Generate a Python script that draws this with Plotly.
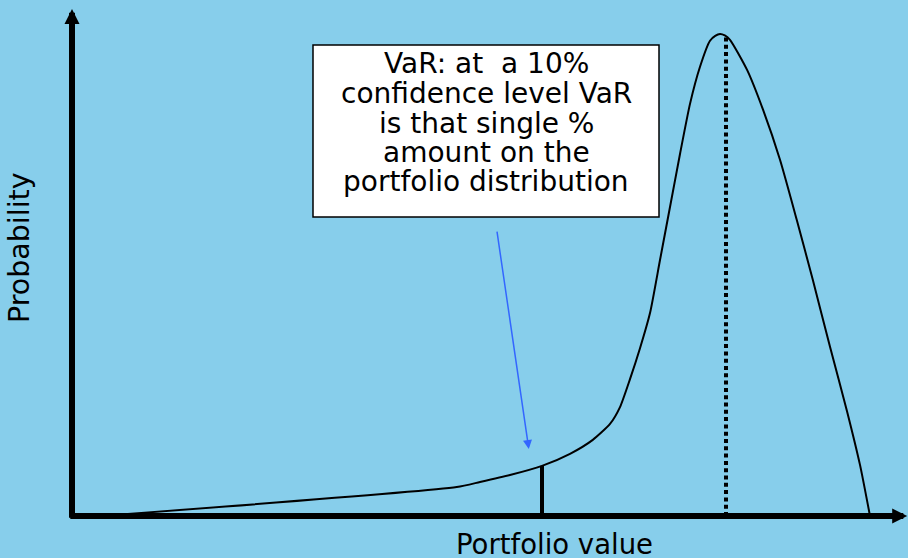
import plotly.graph_objects as go

# Portfolio value (x) and probability density (y)
portfolio_value = [3.5, 48.1, 51.0, 54.75, 58.75, 62.25, 65.1, 67.25, 68.5, 69.75, 71.0,
                   72.25, 73.5, 74.75, 76.0, 77.25, 78.5, 79.75, 80.4, 81.0, 81.6, 82.25, 84.4,
                   86.4, 88.5, 90.6, 92.6, 94.75, 96.9, 98.5, 99.75]
probability = [0.0, 0.060, 0.0705, 0.085, 0.104, 0.129, 0.158, 0.191, 0.226, 0.284, 0.348,
               0.421, 0.531, 0.641, 0.751, 0.855, 0.932, 0.986, 0.996, 1.0, 0.997, 0.988, 0.925,
               0.842, 0.739, 0.614, 0.490, 0.351, 0.216, 0.106, 0.0]

var_value = 58.75        # VaR position
var_prob = 0.104
mean_value = 81.75       # mode / expected value
mean_prob = 0.995

box_lines = ["VaR: at\u00a0 a 10%", "confidence level VaR", "is that single %",
             "amount on the", "portfolio distribution"]
x_label = "Portfolio value"
y_label = "Probability"

BG = "#87CEEB"
W, H = 908, 558

fig = go.Figure()

# distribution curve
fig.add_trace(go.Scatter(x=portfolio_value, y=probability, mode="lines",
                         line=dict(color="black", width=2, shape="spline", smoothing=0.6),
                         hoverinfo="skip"))
# VaR bar
fig.add_trace(go.Scatter(x=[var_value, var_value], y=[0, var_prob], mode="lines",
                         line=dict(color="black", width=4), hoverinfo="skip"))
# dotted mean line
fig.add_trace(go.Scatter(x=[mean_value, mean_value], y=[0, mean_prob], mode="lines",
                         line=dict(color="black", width=4, dash="4px,3.3px"), hoverinfo="skip"))

anns = []
# axes with arrowheads
anns.append(dict(x=0, y=1.052, ax=0, ay=-0.007, xref="x", yref="y", axref="x", ayref="y",
                 showarrow=True, arrowhead=2, arrowwidth=6, arrowsize=0.5, arrowcolor="black",
                 text=""))
anns.append(dict(x=104.4, y=0, ax=-0.4, ay=0, xref="x", yref="y", axref="x", ayref="y",
                 showarrow=True, arrowhead=2, arrowwidth=6, arrowsize=0.5, arrowcolor="black",
                 text=""))
# blue pointer arrow
anns.append(dict(x=57.1, y=0.139, ax=53.1, ay=0.593, xref="x", yref="y", axref="x", ayref="y",
                 showarrow=True, arrowhead=2, arrowwidth=1.5, arrowsize=1.2, arrowcolor="#3366FF",
                 text=""))

# text box lines
baselines = [71.7, 101.7, 131.7, 160.7, 190.0]
fs = 28
for line, b in zip(box_lines, baselines):
    yc = b - 0.3 * fs
    anns.append(dict(x=486 / W, y=1 - yc / H, xref="paper", yref="paper", showarrow=False,
                     text=line, xanchor="center", yanchor="middle",
                     font=dict(family="DejaVu Sans", size=fs, color="black")))

anns.append(dict(x=554 / W, y=1 - 544 / H, xref="paper", yref="paper", showarrow=False,
                 text=x_label, xanchor="center", yanchor="middle",
                 font=dict(family="DejaVu Sans", size=27.5, color="black")))
anns.append(dict(x=19 / W, y=1 - 248 / H, xref="paper", yref="paper", showarrow=False,
                 text=y_label, textangle=-90, xanchor="center", yanchor="middle",
                 font=dict(family="DejaVu Sans", size=28.5, color="black")))

fig.update_layout(
    width=W, height=H,
    margin=dict(l=0, r=0, t=0, b=0),
    paper_bgcolor=BG, plot_bgcolor=BG,
    showlegend=False,
    xaxis=dict(range=[-9, 104.5], visible=False, fixedrange=True),
    yaxis=dict(range=[-0.08714, 1.07054], visible=False, fixedrange=True),
    annotations=anns,
    shapes=[dict(type="rect", xref="paper", yref="paper",
                 x0=313 / W, x1=659 / W, y0=1 - 217 / H, y1=1 - 45 / H,
                 fillcolor="white", line=dict(color="black", width=1.5), layer="below")],
)

fig.write_html("out.html", config={"displayModeBar": False},
               post_script="document.body.style.margin='0';document.body.style.overflow='hidden';")
